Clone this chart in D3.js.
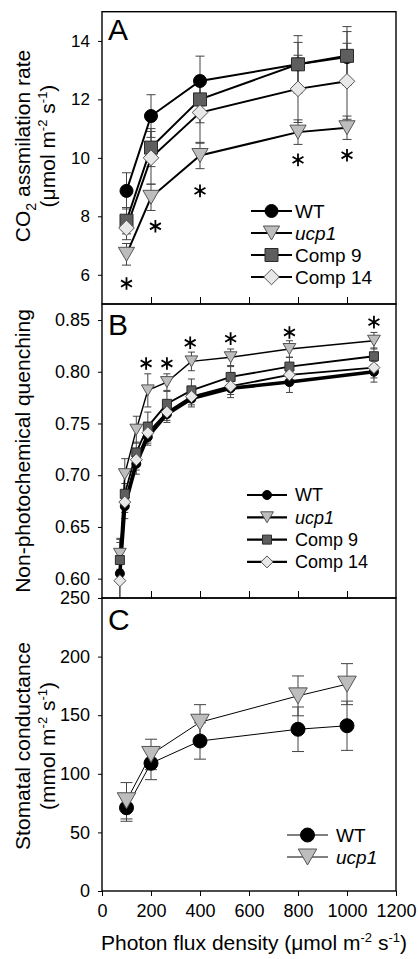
<!DOCTYPE html>
<html><head><meta charset="utf-8">
<script src="https://cdn.jsdelivr.net/npm/d3@7"></script>
<style>
body{margin:0;background:#fff}
svg{display:block}
text{font-family:"Liberation Sans",Arial,Helvetica,sans-serif;fill:#000}
</style>
</head><body>
<svg id="chart" width="418" height="959"></svg>
<script>
// ---------------- DATA ----------------
const seriesNames = ["WT", "ucp1", "Comp 9", "Comp 14"];
const xTicks = [0, 200, 400, 600, 800, 1000, 1200];

// Panel A: CO2 assimilation
const pfdA = [100, 200, 400, 800, 1000];
const aWT      = [8.87, 11.43, 12.63, 13.20, 13.45];
const aWTerr   = [0.62, 0.73, 0.85, 0.75, 0.87];
const aUcp1    = [6.70, 8.65, 10.08, 10.88, 11.03];
const aUcp1err = [0.37, 0.45, 0.45, 0.42, 0.40];
const aComp9   = [7.85, 10.35, 12.00, 13.20, 13.49];
const aComp9err= [0.45, 0.65, 0.80, 0.98, 1.00];
const aComp14  = [7.60, 10.00, 11.55, 12.36, 12.62];
const aComp14err=[0.40, 0.90, 1.05, 1.15, 1.30];
const aTicks = [6, 8, 10, 12, 14];
const aStarX = [100, 218, 400, 800, 1000];
const aStarY = [5.70, 7.66, 8.87, 9.93, 10.09];

// Panel B: NPQ
const pfdB = [73, 93, 140, 187, 265, 365, 525, 765, 1110];
const bWT      = [0.605, 0.670, 0.711, 0.737, 0.759, 0.774, 0.784, 0.790, 0.800];
const bWTerr   = [0.030, 0.012, 0.010, 0.008, 0.008, 0.008, 0.009, 0.010, 0.010];
const bUcp1    = [0.624, 0.701, 0.744, 0.782, 0.790, 0.810, 0.814, 0.822, 0.830];
const bUcp1err = [0.015, 0.015, 0.013, 0.016, 0.008, 0.009, 0.008, 0.008, 0.008];
const bComp9   = [0.618, 0.682, 0.722, 0.747, 0.769, 0.782, 0.795, 0.805, 0.815];
const bComp9err= [0.020, 0.010, 0.010, 0.014, 0.012, 0.011, 0.010, 0.009, 0.008];
const bComp14  = [0.598, 0.674, 0.715, 0.741, 0.761, 0.776, 0.786, 0.797, 0.804];
const bComp14err=[0.020, 0.010, 0.010, 0.010, 0.008, 0.008, 0.008, 0.010, 0.010];
const bTicks = [0.60, 0.65, 0.70, 0.75, 0.80, 0.85];
const bStarX = [180, 265, 360, 525, 765, 1110];
const bStarY = [0.808, 0.808, 0.828, 0.832, 0.838, 0.848];

// Panel C: stomatal conductance
const pfdC = [100, 200, 400, 800, 1000];
const cWT      = [71, 109, 128, 138, 141];
const cWTerr   = [11.5, 14, 15.5, 19, 21];
const cUcp1    = [77, 116.5, 144, 166.5, 176.5];
const cUcp1err = [15.5, 13, 15, 17, 17.5];
const cTicks = [0, 50, 100, 150, 200, 250];

// ---------------- LAYOUT ----------------
const svg = d3.select("#chart");
const L = 102, R = 396;
const x = d3.scaleLinear().domain([0, 1200]).range([L, R]);
const FONT = '"Liberation Sans",Arial,sans-serif';
const TITLE = 21;

const styles = {
  "WT":      {shape: "circle",  fill: "#000",    stroke: "#000"},
  "ucp1":    {shape: "tri",     fill: "#bdbdbd", stroke: "#555"},
  "Comp 9":  {shape: "square",  fill: "#5e5e5e", stroke: "#2a2a2a"},
  "Comp 14": {shape: "diamond", fill: "#e8e8e8", stroke: "#555"}
};

function markerPath(shape, s) {
  const p = d3.path();
  if (shape === "circle") { p.arc(0, 0, s / 2, 0, 2 * Math.PI); }
  else if (shape === "square") { p.rect(-s / 2, -s / 2, s, s); }
  else if (shape === "diamond") { const h = s * 0.6; p.moveTo(0, -h); p.lineTo(h, 0); p.lineTo(0, h); p.lineTo(-h, 0); p.closePath(); }
  else if (shape === "tri") { const w = s * 0.58, h = s * 0.5; p.moveTo(-w, -h); p.lineTo(w, -h); p.lineTo(0, h); p.closePath(); }
  return p.toString();
}

function starPath(r) {
  const p = d3.path();
  [90, 30, 150].forEach(a => {
    const t = a * Math.PI / 180;
    p.moveTo(-r * Math.cos(t), -r * Math.sin(t));
    p.lineTo(r * Math.cos(t), r * Math.sin(t));
  });
  return p.toString();
}

function richText(sel, parts, size) {
  parts.forEach(([t, k]) => {
    const ts = sel.append("tspan").text(t);
    if (k === "sub") ts.attr("font-size", size * 0.68).attr("dy", size * 0.28);
    else if (k === "sup") ts.attr("font-size", size * 0.62).attr("dy", -size * 0.38);
    else if (k === "back-sub") ts.attr("dy", -size * 0.28);
    else if (k === "back-sup") ts.attr("dy", size * 0.38);
  });
}

function panel(cfg) {
  const g = svg.append("g");
  const y = d3.scaleLinear().domain(cfg.domain).range([cfg.bottom, cfg.top]);
  const id = "clip" + cfg.label;
  svg.append("clipPath").attr("id", id).append("rect")
    .attr("x", L).attr("y", cfg.top).attr("width", R - L).attr("height", cfg.bottom - cfg.top);

  // y axis
  const ya = g.append("g").attr("transform", `translate(${L},0)`)
    .call(d3.axisLeft(y).tickValues(cfg.ticks).tickSize(4).tickPadding(8).tickFormat(cfg.fmt));
  ya.select(".domain").remove();
  ya.selectAll("text").attr("font-size", cfg.tickFont).style("font-family", FONT);
  ya.selectAll("line").attr("stroke", "#000");

  // x axis
  if (cfg.xLabels) {
    const xa = g.append("g").attr("transform", `translate(0,${cfg.bottom})`)
      .call(d3.axisBottom(x).tickValues(xTicks).tickSize(5).tickPadding(8).tickFormat(d3.format("d")));
    xa.select(".domain").remove();
    xa.selectAll("text").attr("font-size", 18).style("font-family", FONT);
  } else {
    const xa = g.append("g").attr("transform", `translate(0,${cfg.bottom})`)
      .call(d3.axisBottom(x).tickValues(xTicks.slice(1, -1)).tickSize(-7).tickFormat(""));
    xa.select(".domain").remove();
  }

  // frame
  g.append("rect").attr("x", L).attr("y", cfg.top).attr("width", R - L).attr("height", cfg.bottom - cfg.top)
    .attr("fill", "none").attr("stroke", "#000").attr("stroke-width", 1.4);

  const plot = g.append("g").attr("clip-path", `url(#${id})`);
  const line = d3.line().x(d => x(d[0])).y(d => y(d[1]));

  // error bars
  cfg.series.forEach(s => {
    const pts = cfg.xs.map((xv, i) => [xv, s.v[i], s.e[i]]);
    const eb = plot.append("g").attr("stroke", "#444").attr("stroke-width", 1);
    pts.forEach(([xv, v, e]) => {
      const cx = x(xv), hw = cfg.cap / 2;
      eb.append("line").attr("x1", cx).attr("x2", cx).attr("y1", y(v - e)).attr("y2", y(v + e));
      eb.append("line").attr("x1", cx - hw).attr("x2", cx + hw).attr("y1", y(v - e)).attr("y2", y(v - e));
      eb.append("line").attr("x1", cx - hw).attr("x2", cx + hw).attr("y1", y(v + e)).attr("y2", y(v + e));
    });
  });
  // lines
  cfg.series.forEach(s => {
    plot.append("path").datum(cfg.xs.map((xv, i) => [xv, s.v[i]]))
      .attr("d", line).attr("fill", "none").attr("stroke", "#000")
      .attr("stroke-width", (cfg.lineW[s.name] || cfg.lineW.def));
  });
  // markers
  cfg.series.forEach(s => {
    const st = styles[s.name];
    plot.selectAll(null).data(cfg.xs.map((xv, i) => [xv, s.v[i]])).enter().append("path")
      .attr("transform", d => `translate(${x(d[0])},${y(d[1])})`)
      .attr("d", markerPath(st.shape, cfg.msize[st.shape]))
      .attr("fill", st.fill).attr("stroke", st.stroke).attr("stroke-width", 1);
  });
  // stars
  if (cfg.stars) {
    plot.selectAll(null).data(cfg.stars.x.map((xv, i) => [xv, cfg.stars.y[i]])).enter().append("path")
      .attr("transform", d => `translate(${x(d[0])},${y(d[1])})`)
      .attr("d", starPath(6.3)).attr("stroke", "#000").attr("stroke-width", 1.8).attr("fill", "none");
  }
  // panel label
  g.append("text").attr("x", 108).attr("y", cfg.top + cfg.labelDy).attr("font-size", 30).text(cfg.label);

  // legend
  const lg = g.append("g");
  cfg.series.forEach((s, i) => {
    const st = styles[s.name];
    const ly = cfg.leg.y0 + i * cfg.leg.dy;
    lg.append("line").attr("x1", cfg.leg.x0).attr("x2", cfg.leg.x0 + cfg.leg.len).attr("y1", ly).attr("y2", ly)
      .attr("stroke", "#000").attr("stroke-width", (cfg.legLineW || cfg.lineW.def));
    lg.append("path").attr("transform", `translate(${cfg.leg.x0 + cfg.leg.len / 2},${ly})`)
      .attr("d", markerPath(st.shape, cfg.msize[st.shape]))
      .attr("fill", st.fill).attr("stroke", st.stroke).attr("stroke-width", 1);
    const t = lg.append("text").attr("x", cfg.leg.x0 + cfg.leg.len + cfg.leg.gap).attr("y", ly).attr("dy", "0.36em")
      .attr("font-size", cfg.leg.font).text(s.name);
    if (s.name === "ucp1") t.attr("font-style", "italic");
  });

  // y title
  const tg = g.append("g").attr("transform", `translate(0,${cfg.titleY})`);
  cfg.title.forEach((parts, i) => {
    const t = tg.append("text").attr("transform", `translate(${cfg.titleX[i]},0) rotate(-90)`)
      .attr("text-anchor", "middle").attr("font-size", TITLE);
    richText(t, parts, TITLE);
  });
  return y;
}

panel({
  label: "A", top: 11.7, bottom: 304, domain: [5, 15], ticks: aTicks, fmt: d3.format("d"), tickFont: 17,
  xs: pfdA, cap: 9, labelDy: 28,
  series: [
    {name: "WT", v: aWT, e: aWTerr}, {name: "ucp1", v: aUcp1, e: aUcp1err},
    {name: "Comp 9", v: aComp9, e: aComp9err}, {name: "Comp 14", v: aComp14, e: aComp14err}],
  lineW: {def: 2},
  msize: {circle: 13, square: 13, diamond: 13, tri: 14},
  stars: {x: aStarX, y: aStarY},
  leg: {x0: 251, len: 41, gap: 3, y0: 211, dy: 22, font: 19},
  title: [[["CO"], ["2", "sub"], [" assmilation rate", "back-sub"]],
          [["(\u03bcmol m"], ["-2", "sup"], [" s", "back-sup"], ["-1", "sup"], [")", "back-sup"]]],
  titleX: [30, 55], titleY: 146
});

panel({
  label: "B", top: 304, bottom: 598, domain: [0.5813, 0.8655], ticks: bTicks, fmt: d3.format(".2f"), tickFont: 18,
  xs: pfdB, cap: 7, labelDy: 31,
  series: [
    {name: "WT", v: bWT, e: bWTerr}, {name: "ucp1", v: bUcp1, e: bUcp1err},
    {name: "Comp 9", v: bComp9, e: bComp9err}, {name: "Comp 14", v: bComp14, e: bComp14err}],
  lineW: {def: 1.8, "WT": 3.5, "ucp1": 1.4},
  legLineW: 2.2,
  msize: {circle: 9, square: 9, diamond: 10, tri: 11},
  stars: {x: bStarX, y: bStarY},
  leg: {x0: 247, len: 40, gap: 8, y0: 495, dy: 22.3, font: 18},
  title: [[["Non-photochemical quenching"]]],
  titleX: [30], titleY: 451
});

panel({
  label: "C", top: 598, bottom: 891, domain: [0, 250], ticks: cTicks, fmt: d3.format("d"), tickFont: 18,
  xs: pfdC, cap: 12, labelDy: 32, xLabels: true,
  series: [{name: "WT", v: cWT, e: cWTerr}, {name: "ucp1", v: cUcp1, e: cUcp1err}],
  lineW: {def: 1},
  msize: {circle: 14, square: 13, diamond: 13, tri: 16},
  leg: {x0: 287, len: 41, gap: 8, y0: 835, dy: 22, font: 19},
  title: [[["Stomatal conductance"]],
          [["(mmol m"], ["-2", "sup"], [" s", "back-sup"], ["-1", "sup"], [")", "back-sup"]]],
  titleX: [30, 55], titleY: 746
});

// x title
const xt = svg.append("text").attr("x", 254).attr("y", 950).attr("text-anchor", "middle").attr("font-size", TITLE);
richText(xt, [["Photon flux density (\u03bcmol m"], ["-2", "sup"], [" s", "back-sup"], ["-1", "sup"], [")", "back-sup"]], TITLE);
</script>
</body></html>
